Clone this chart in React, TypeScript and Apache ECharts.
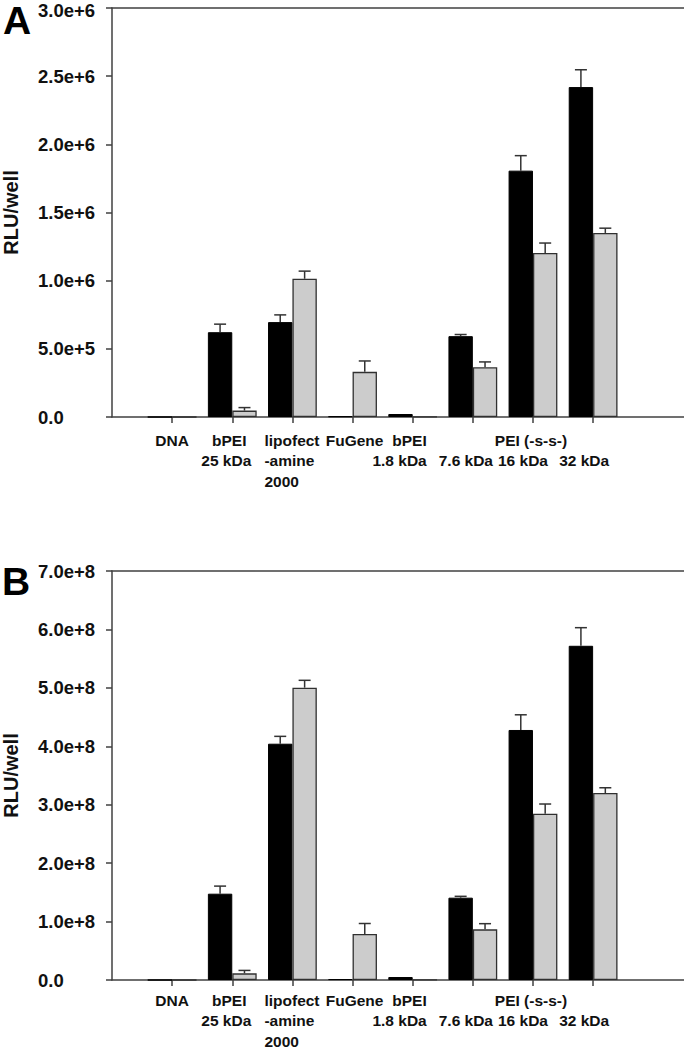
import React, { useEffect, useRef } from "react";
import * as echarts from "echarts";

// ---------- data ----------
const xPositions = [0, 1, 2, 3, 4, 5, 6, 7];
const labelLines: string[][] = [
  ["DNA"],
  ["bPEI", "25 kDa"],
  ["lipofect", "-amine", "2000"],
  ["FuGene"],
  ["bPEI", "1.8 kDa"],
  ["", "7.6 kDa"],
  ["PEI (-s-s-)", "16 kDa"],
  ["", "32 kDa"],
];

const blackA = [0, 622000, 696000, 5000, 22000, 593000, 1807000, 2420000];
const blackAErr = [0, 59000, 53000, 0, 0, 12000, 110000, 127000];
const grayA = [0, 47000, 1014000, 331000, 2000, 365000, 1203000, 1350000];
const grayAErr = [0, 22000, 56000, 80000, 0, 39000, 73000, 35000];

const blackB = [0, 1.477e8, 4.044e8, 1.5e6, 5.1e6, 1.409e8, 4.279e8, 5.72e8];
const blackBErr = [0, 0.13e8, 0.126e8, 0, 0, 0.023e8, 0.26e8, 0.31e8];
const grayB = [0, 0.114e8, 5.003e8, 0.787e8, 0.2e6, 0.867e8, 2.846e8, 3.2e8];
const grayBErr = [0, 0.05e8, 0.126e8, 0.18e8, 0, 0.097e8, 0.166e8, 0.09e8];

const yTicksA = ["0.0", "5.0e+5", "1.0e+6", "1.5e+6", "2.0e+6", "2.5e+6", "3.0e+6"];
const yTicksB = ["0.0", "1.0e+8", "2.0e+8", "3.0e+8", "4.0e+8", "5.0e+8", "6.0e+8", "7.0e+8"];
const yMaxA = 3e6;
const yMaxB = 7e8;
const yIntervalA = 5e5;
const yIntervalB = 1e8;
const panelLetters = ["A", "B"];
const yTitle = "RLU/well";

// ---------- layout / style ----------
const FONT = "'Liberation Sans', Arial, Helvetica, sans-serif";
const AXIS_COLOR = "#404040";
const TEXT_COLOR = "#111";
const BAR_W = 24.4;
const GRID_LEFT = 112;
const GRID_W = 640;
const UNIT_PX = 60.14;
const labelAlign = ["center", "center", "left", "center", "right", "center", "center", "center"];
const labelDx: number[][] = [[0], [-3, -6], [-28, -28, -28], [2], [14, 14], [0, -7], [-2, -10], [0, -9]];
const panelLayout = [
  { top: 8, height: 409, labelTop: 23, letterX: 3, letterY: 20, topPad: 5 },
  { top: 571, height: 409, labelTop: 20, letterX: 2, letterY: 581, topPad: 0 },
];
const LINE_GAP = 20.5;

export default function App() {
  const ref = useRef<HTMLDivElement>(null);

  useEffect(() => {
    if (!ref.current) return;
    document.documentElement.style.overflow = "hidden";
    document.body.style.overflow = "hidden";
    const chart = echarts.init(ref.current, undefined, { renderer: "svg" });

    const panels = [
      { black: blackA, blackErr: blackAErr, gray: grayA, grayErr: grayAErr, ticks: yTicksA, max: yMaxA, interval: yIntervalA },
      { black: blackB, blackErr: blackBErr, gray: grayB, grayErr: grayBErr, ticks: yTicksB, max: yMaxB, interval: yIntervalB },
    ];

    const xMax = GRID_W / UNIT_PX - 1;
    const grids: any[] = [];
    const xAxes: any[] = [];
    const yAxes: any[] = [];
    const series: any[] = [];
    const labelFont = { fontFamily: FONT, fontWeight: "bold", fontSize: 18.5, color: TEXT_COLOR };

    panels.forEach((p, gi) => {
      const L = panelLayout[gi];
      grids.push({
        left: GRID_LEFT,
        top: L.top,
        height: L.height,
        width: GRID_W,
        show: false,
        containLabel: false,
        outerBoundsMode: "none",
      });
      xAxes.push({
        type: "value",
        gridIndex: gi,
        position: "bottom",
        min: -1,
        max: xMax,
        axisLine: { show: true, onZero: false, lineStyle: { color: AXIS_COLOR, width: 1.5 } },
        axisTick: { show: true, customValues: xPositions, length: 6, lineStyle: { color: AXIS_COLOR, width: 1.5 } },
        axisLabel: { show: false },
        splitLine: { show: false },
      });
      xAxes.push({
        type: "value",
        gridIndex: gi,
        position: "top",
        min: -1,
        max: xMax,
        axisLine: { show: true, onZero: false, lineStyle: { color: AXIS_COLOR, width: 1.5 } },
        axisTick: { show: false },
        axisLabel: { show: false },
        splitLine: { show: false },
      });
      yAxes.push({
        type: "value",
        gridIndex: gi,
        min: 0,
        max: p.max,
        interval: p.interval,
        name: yTitle,
        nameLocation: "middle",
        nameRotate: 90,
        nameGap: 91,
        nameTextStyle: { fontFamily: FONT, fontWeight: "bold", fontSize: 20, color: TEXT_COLOR },
        axisLine: { show: true, onZero: false, lineStyle: { color: AXIS_COLOR, width: 1.5 } },
        axisTick: { show: true, length: 6, lineStyle: { color: AXIS_COLOR, width: 1.5 } },
        axisLabel: {
          margin: 74,
          align: "left",
          ...labelFont,
          lineHeight: 16,
          formatter: (v: number) => {
            const idx = Math.round(v / p.interval);
            const t = p.ticks[idx] ?? "";
            return idx === p.ticks.length - 1 && L.topPad ? `{top|${t}}` : t;
          },
          rich: {
            top: { ...labelFont, lineHeight: 16, padding: [L.topPad, 0, 0, 0] },
          },
        },
        splitLine: { show: false },
      });

      const xi = gi * 2;
      series.push({
        type: "bar",
        xAxisIndex: xi,
        yAxisIndex: gi,
        barWidth: BAR_W,
        barGap: "0%",
        data: xPositions.map((x, i) => [x, p.black[i]]),
        itemStyle: { color: "#000", borderColor: "#000", borderWidth: 1 },
        z: 2,
      });
      series.push({
        type: "bar",
        xAxisIndex: xi,
        yAxisIndex: gi,
        barWidth: BAR_W,
        barGap: "0%",
        data: xPositions.map((x, i) => [x, p.gray[i]]),
        itemStyle: { color: "#cccccc", borderColor: "#303030", borderWidth: 1.3 },
        z: 2,
      });

      const errData: number[][] = [];
      xPositions.forEach((x, i) => {
        errData.push([x, p.black[i], p.blackErr[i], -1]);
        errData.push([x, p.gray[i], p.grayErr[i], 1]);
      });
      series.push({
        type: "custom",
        xAxisIndex: xi,
        yAxisIndex: gi,
        coordinateSystem: "cartesian2d",
        z: 3,
        data: errData,
        renderItem: (params: any, api: any) => {
          const x = api.value(0);
          const v = api.value(1);
          const e = api.value(2);
          const side = api.value(3);
          if (!(e > 0)) return null;
          const p0 = api.coord([x, v]);
          const p1 = api.coord([x, v + e]);
          const cx = p0[0] + (side * BAR_W) / 2;
          const st = { stroke: "#333", lineWidth: 1.5 };
          return {
            type: "group",
            children: [
              { type: "line", shape: { x1: cx, y1: p0[1], x2: cx, y2: p1[1] }, style: st },
              { type: "line", shape: { x1: cx - 6, y1: p1[1], x2: cx + 6, y2: p1[1] }, style: st },
            ],
          };
        },
      });
    });

    chart.setOption({
      animation: false,
      backgroundColor: "#fff",
      grid: grids,
      xAxis: xAxes,
      yAxis: yAxes,
      series,
    });

    const graphics: any[] = [];
    panels.forEach((_p, gi) => {
      const L = panelLayout[gi];
      xPositions.forEach((x, i) => {
        const pt = chart.convertToPixel({ xAxisIndex: gi * 2, yAxisIndex: gi } as any, [x, 0]) as number[];
        labelLines[i].forEach((t, li) => {
          if (!t) return;
          graphics.push({
            type: "text",
            x: pt[0] + labelDx[i][li],
            y: pt[1] + L.labelTop + li * LINE_GAP,
            style: {
              text: t,
              font: `bold 15.5px ${FONT}`,
              fill: TEXT_COLOR,
              align: labelAlign[i],
              verticalAlign: "middle",
            },
          });
        });
      });
      graphics.push({
        type: "text",
        x: L.letterX,
        y: L.letterY,
        style: {
          text: panelLetters[gi],
          font: `bold 39px ${FONT}`,
          fill: "#000",
          align: "left",
          verticalAlign: "middle",
        },
      });
    });

    chart.setOption({ graphic: graphics });

    return () => chart.dispose();
  }, []);

  return (
    <div
      ref={ref}
      style={{ position: "fixed", left: 0, top: 0, width: 684, height: 1050 }}
    />
  );
}
